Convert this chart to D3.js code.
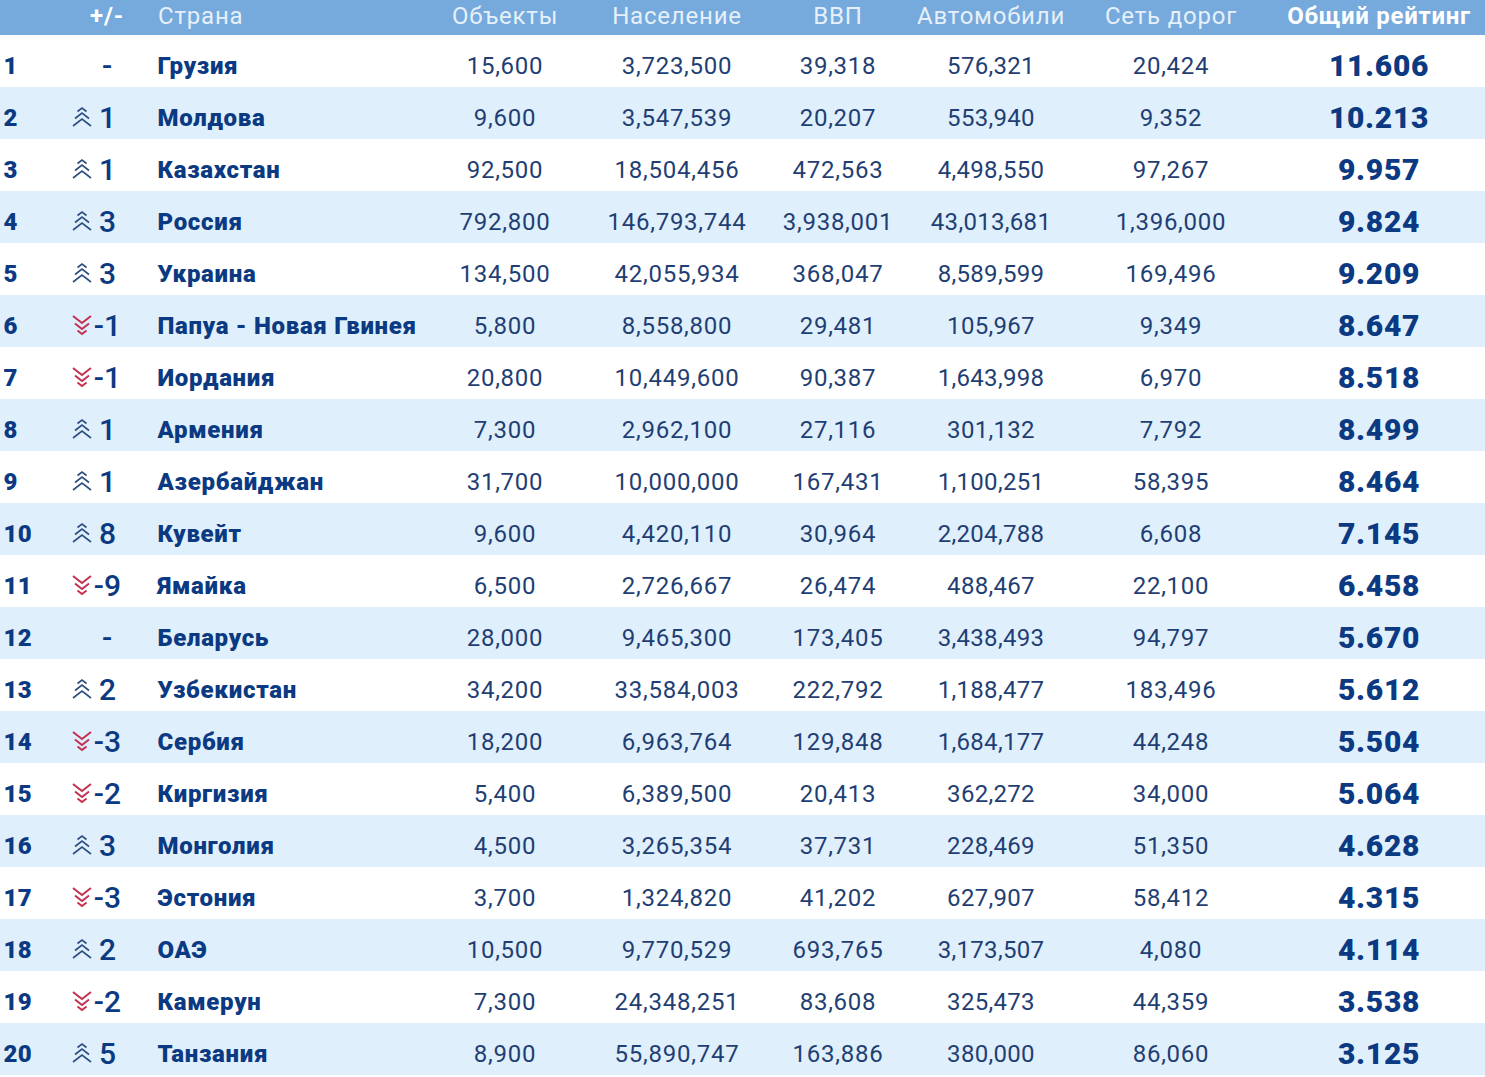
<!DOCTYPE html>
<html>
<head>
<meta charset="utf-8">
<script src="https://d3js.org/d3.v7.min.js"></script>
<style>
html, body { margin: 0; padding: 0; background: #fff; }
svg { display: block; }
text { font-family: Roboto, sans-serif; }
</style>
</head>
<body>
<div id="chart"></div>
<script>
var headers = ["+/-", "Страна", "Объекты", "Население", "ВВП", "Автомобили", "Сеть дорог", "Общий рейтинг"];
var ranks = d3.range(1, 21);
var changes = [0, 1, 1, 3, 3, -1, -1, 1, 1, 8, -9, 0, 2, -3, -2, 3, -3, 2, -2, 5];
var countries = ["Грузия", "Молдова", "Казахстан", "Россия", "Украина", "Папуа - Новая Гвинея", "Иордания", "Армения", "Азербайджан", "Кувейт", "Ямайка", "Беларусь", "Узбекистан", "Сербия", "Киргизия", "Монголия", "Эстония", "ОАЭ", "Камерун", "Танзания"];
var objects = [15600, 9600, 92500, 792800, 134500, 5800, 20800, 7300, 31700, 9600, 6500, 28000, 34200, 18200, 5400, 4500, 3700, 10500, 7300, 8900];
var population = [3723500, 3547539, 18504456, 146793744, 42055934, 8558800, 10449600, 2962100, 10000000, 4420110, 2726667, 9465300, 33584003, 6963764, 6389500, 3265354, 1324820, 9770529, 24348251, 55890747];
var gdp = [39318, 20207, 472563, 3938001, 368047, 29481, 90387, 27116, 167431, 30964, 26474, 173405, 222792, 129848, 20413, 37731, 41202, 693765, 83608, 163886];
var cars = [576321, 553940, 4498550, 43013681, 8589599, 105967, 1643998, 301132, 1100251, 2204788, 488467, 3438493, 1188477, 1684177, 362272, 228469, 627907, 3173507, 325473, 380000];
var roads = [20424, 9352, 97267, 1396000, 169496, 9349, 6970, 7792, 58395, 6608, 22100, 94797, 183496, 44248, 34000, 51350, 58412, 4080, 44359, 86060];
var ratings = [11.606, 10.213, 9.957, 9.824, 9.209, 8.647, 8.518, 8.499, 8.464, 7.145, 6.458, 5.670, 5.612, 5.504, 5.064, 4.628, 4.315, 4.114, 3.538, 3.125];

var width = 1485, height = 1077;
var navy = "#0b3a82", textBlue = "#1f3f74", red = "#c4304f";
var fmt = d3.format(",");

var svg = d3.select("#chart").append("svg")
    .attr("width", width)
    .attr("height", height);

var y = d3.scaleBand().domain(ranks).range([35, 1075]);

// header
svg.append("rect").attr("x", 0).attr("y", 0).attr("width", width).attr("height", 35).attr("fill", "#76a9dc");

// zebra rows
svg.selectAll("rect.row").data(ranks).enter().append("rect")
    .attr("class", "row")
    .attr("x", 0)
    .attr("y", function(d) { return y(d); })
    .attr("width", width)
    .attr("height", y.bandwidth())
    .attr("fill", function(d) { return d % 2 == 0 ? "#dfeffc" : "#fff"; });

var numCols = [
    { x: 505, values: objects, ls: 0.75 },
    { x: 677, values: population, ls: 0.75 },
    { x: 838, values: gdp, ls: 0.75 },
    { x: 991, values: cars, ls: 0.3 },
    { x: 1171, values: roads, ls: 0.75 }
];

// header labels
var headX = [107, 158, 505, 677, 838, 991, 1171, 1379];
svg.selectAll("text.head").data(headers).enter().append("text")
    .attr("class", "head")
    .attr("x", function(d, i) { return headX[i]; })
    .attr("y", 24)
    .attr("text-anchor", function(d, i) { return i == 1 ? "start" : "middle"; })
    .attr("fill", function(d, i) { return (i == 0 || i == 7) ? "#fff" : "#e6f0fa"; })
    .attr("font-size", 24)
    .attr("font-weight", function(d, i) { return (i == 0 || i == 7) ? 700 : 400; })
    .attr("letter-spacing", function(d, i) { return i == 7 ? 0.7 : 0.8; })
    .text(function(d) { return d; });

function mid(i) { return y(ranks[i]) + y.bandwidth() / 2 + 13; }

// rank
svg.selectAll("text.rank").data(ranks).enter().append("text")
    .attr("class", "rank")
    .attr("x", 3.5)
    .attr("y", function(d, i) { return mid(i) - 0.5; })
    .attr("fill", navy)
    .attr("font-size", 24)
    .attr("font-weight", 900)
    .attr("letter-spacing", 0.4)
    .text(function(d) { return d; });

// change number
svg.selectAll("text.change").data(changes).enter().append("text")
    .attr("class", "change")
    .attr("x", function(d) { return d == 0 ? 107 : (d < 0 ? 121 : 116); })
    .attr("y", function(d, i) { return mid(i) + 2; })
    .attr("text-anchor", function(d) { return d == 0 ? "middle" : "end"; })
    .attr("fill", navy)
    .attr("font-size", 30)
    .attr("font-weight", 500)
    .text(function(d) { return d == 0 ? "-" : d; });

// chevrons
var up = "M-4.5,-5.5L0,-9L4.5,-5.5M-7,1.5L0,-4L7,1.5M-9,9L0,2L9,9";
var down = "M-9,-9L0,-2L9,-9M-7,-1.5L0,4L7,-1.5M-4.5,5.5L0,9L4.5,5.5";
svg.selectAll("path.chev").data(changes.map(function(d, i) { return { d: d, i: i }; }).filter(function(c) { return c.d != 0; }))
    .enter().append("path")
    .attr("class", "chev")
    .attr("transform", function(c) { return "translate(82," + (mid(c.i) - 9) + ")"; })
    .attr("d", function(c) { return c.d > 0 ? up : down; })
    .attr("fill", "none")
    .attr("stroke", function(c) { return c.d > 0 ? "#2c4f80" : red; })
    .attr("stroke-width", function(c) { return c.d > 0 ? 1.6 : 2; });

// country
svg.selectAll("text.country").data(countries).enter().append("text")
    .attr("class", "country")
    .attr("x", 157.5)
    .attr("y", function(d, i) { return mid(i); })
    .attr("fill", navy)
    .attr("font-size", 24)
    .attr("font-weight", 900)
    .attr("letter-spacing", 0.7)
    .text(function(d) { return d; });

// number columns
numCols.forEach(function(col) {
    svg.append("g").selectAll("text").data(col.values).enter().append("text")
        .attr("x", col.x)
        .attr("y", function(d, i) { return mid(i); })
        .attr("text-anchor", "middle")
        .attr("fill", textBlue)
        .attr("font-size", 24)
        .attr("letter-spacing", col.ls)
        .text(function(d) { return fmt(d); });
});

// rating
svg.selectAll("text.rating").data(ratings).enter().append("text")
    .attr("class", "rating")
    .attr("x", 1379)
    .attr("y", function(d, i) { return mid(i) + 2; })
    .attr("text-anchor", "middle")
    .attr("fill", navy)
    .attr("font-size", 30)
    .attr("font-weight", 900)
    .attr("letter-spacing", 0.7)
    .text(function(d) { return d.toFixed(3); });
</script>
</body>
</html>
